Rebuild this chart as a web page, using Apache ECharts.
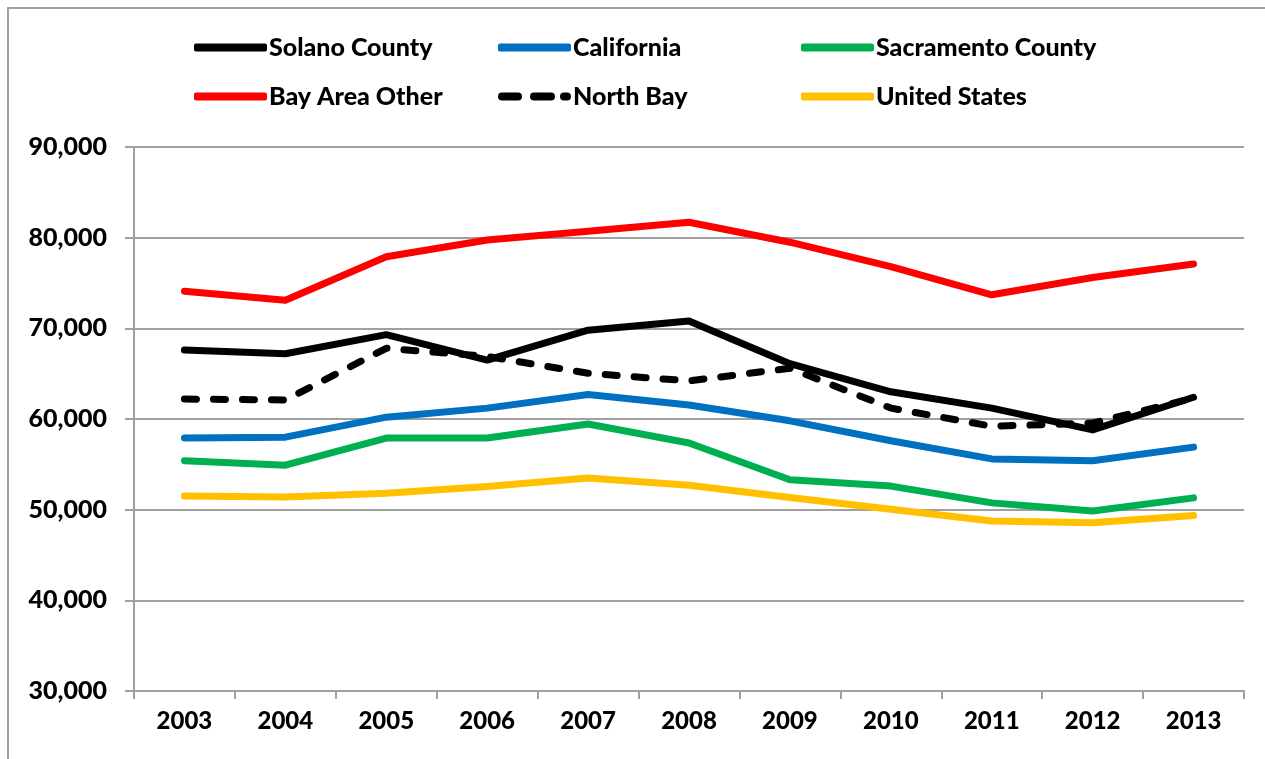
<!DOCTYPE html>
<html>
<head>
<meta charset="utf-8">
<script src="https://cdn.jsdelivr.net/npm/echarts@6/dist/echarts.min.js"></script>
<style>
  html, body { margin: 0; padding: 0; background: #fff; }
  #chart { width: 1265px; height: 759px; }
</style>
</head>
<body>
<div id="chart"></div>
<script>
// chart data
const years = ['2003', '2004', '2005', '2006', '2007', '2008', '2009', '2010', '2011', '2012', '2013'];
const solano = [67600, 67200, 69300, 66500, 69800, 70800, 66100, 63000, 61200, 58800, 62400];
const california = [57900, 58000, 60200, 61200, 62700, 61550, 59800, 57600, 55600, 55400, 56900];
const sacramento = [55400, 54900, 57900, 57900, 59450, 57350, 53300, 52600, 50750, 49850, 51300];
const bayAreaOther = [74100, 73100, 77900, 79750, 80700, 81700, 79500, 76800, 73700, 75600, 77100];
const northBay = [62200, 62100, 67800, 66900, 65050, 64200, 65600, 61200, 59200, 59550, 62300];
const unitedStates = [51500, 51400, 51800, 52550, 53500, 52700, 51350, 50050, 48750, 48550, 49350];
const yTicks = [30000, 90000, 10000]; // min, max, interval

const font = 'Lato, "Open Sans", sans-serif';

// dashed legend key (three rounded dashes in a 73x8 box)
const dashIcon = 'path://M4,0 H20 A4,4 0 0 1 20,8 H4 A4,4 0 0 1 4,0 Z ' +
  'M36,0 H53 A4,4 0 0 1 53,8 H36 A4,4 0 0 1 36,0 Z ' +
  'M66,0 H69 A4,4 0 0 1 69,8 H66 A4,4 0 0 1 66,0 Z';

const chart = echarts.init(document.getElementById('chart'));

const mkLine = (name, data, color, dashed) => ({
  name: name,
  type: 'line',
  data: data,
  symbol: 'none',
  smooth: false,
  animation: false,
  lineStyle: {
    color: color,
    width: 7,
    cap: 'round',
    join: 'round',
    type: dashed ? [12, 17] : 'solid'
  },
  itemStyle: { color: color }
});

const legendBase = {
  orient: 'vertical',
  itemWidth: 73,
  itemHeight: 8,
  itemGap: 24,
  icon: 'roundRect',
  textStyle: { fontFamily: font, fontWeight: 900, fontSize: 25, color: '#000', padding: [0, 0, 0, -3] },
  top: 30
};

chart.setOption({
  backgroundColor: '#fff',
  graphic: [{
    type: 'rect',
    shape: { x: 8, y: 8, width: 1300, height: 800 },
    style: { fill: 'none', stroke: '#a0a0a0', lineWidth: 2 },
    silent: true
  }],
  legend: [
    Object.assign({}, legendBase, { left: 189, data: ['Solano County', 'Bay Area Other'] }),
    Object.assign({}, legendBase, { left: 493, data: ['California', { name: 'North Bay', icon: dashIcon }] }),
    Object.assign({}, legendBase, { left: 796, data: ['Sacramento County', 'United States'] })
  ],
  grid: { left: 134, right: 21, top: 147, bottom: 68 },
  xAxis: {
    type: 'category',
    data: years,
    boundaryGap: true,
    axisLine: { lineStyle: { color: '#a0a0a0', width: 2 } },
    axisTick: { show: true, length: 8, lineStyle: { color: '#a0a0a0', width: 2 } },
    axisLabel: { fontFamily: font, fontWeight: 900, fontSize: 24, color: '#000', margin: 18 }
  },
  yAxis: {
    type: 'value',
    min: yTicks[0],
    max: yTicks[1],
    interval: yTicks[2],
    axisLine: { show: true, lineStyle: { color: '#a0a0a0', width: 2 } },
    axisTick: { show: true, length: 9, lineStyle: { color: '#a0a0a0', width: 2 } },
    splitLine: { lineStyle: { color: '#a0a0a0', width: 2 } },
    axisLabel: {
      fontFamily: font, fontWeight: 900, fontSize: 25, color: '#000', margin: 27,
      formatter: v => v.toLocaleString('en-US')
    }
  },
  series: [
    mkLine('Solano County', solano, '#000000'),
    mkLine('California', california, '#0070C0'),
    mkLine('Sacramento County', sacramento, '#00B050'),
    mkLine('Bay Area Other', bayAreaOther, '#FF0000'),
    mkLine('North Bay', northBay, '#000000', true),
    mkLine('United States', unitedStates, '#FFC000')
  ]
});
</script>
</body>
</html>
